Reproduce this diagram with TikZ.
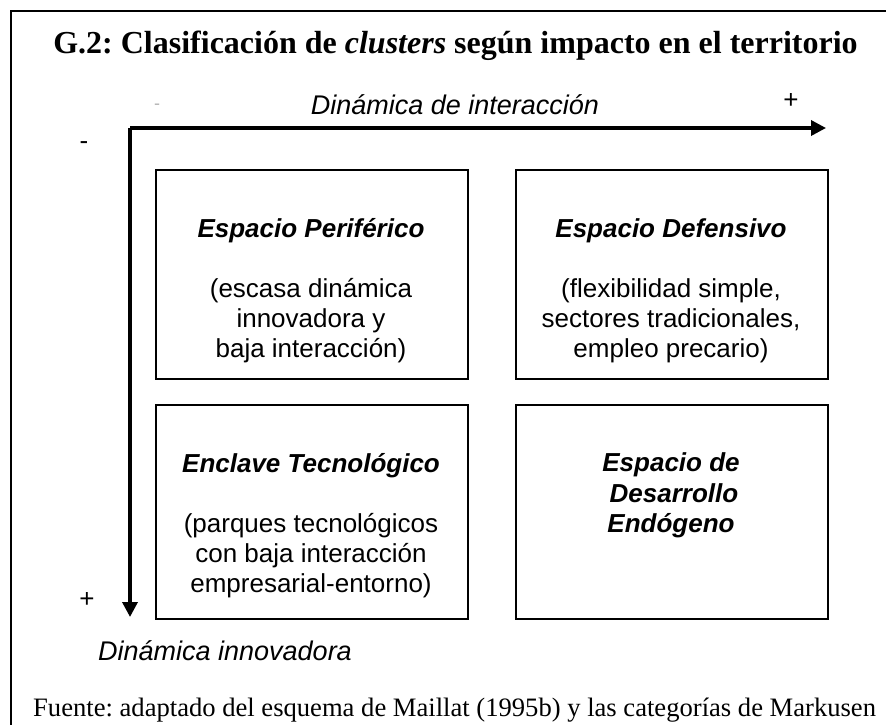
\documentclass[tikz,border=0pt]{standalone}
\usepackage{fontspec}
\setmainfont{Liberation Serif}
\newfontfamily\arial{Liberation Sans}
\usetikzlibrary{arrows.meta}
\frenchspacing
\tikzset{
  frame/.style={line width=2.5pt},
  axis/.style={line width=3.5pt,-{Triangle[length=15pt,width=15pt]}},
  qbox/.style={draw,line width=2pt,anchor=north west,inner sep=0pt,minimum width=312pt,minimum height=209pt},
  qboxlow/.style={qbox,minimum height=214pt},
  head/.style={anchor=base,inner sep=0pt,font=\arial\fontsize{26}{30}\selectfont\bfseries\itshape},
  body/.style={anchor=base,inner sep=0pt,font=\arial\fontsize{26}{30}\selectfont},
  axlab/.style={anchor=base,inner sep=0pt,font=\arial\fontsize{27}{30}\selectfont\itshape},
  sign/.style={inner sep=0pt,font=\arial\fontsize{26}{30}\selectfont},
}
\begin{document}
\frenchspacing
\begin{tikzpicture}[x=1pt,y=-1pt]
\useasboundingbox (0,0) rectangle (886,725);
% outer frame (continues past the right and bottom edges)
\coordinate (fTR) at (886,11);
\coordinate (fTL) at (11,11);
\coordinate (fBL) at (11,725);
\draw[frame] (fTR) -- (fTL) -- (fBL);
% title
\node[anchor=base,inner sep=0pt,font=\fontsize{32}{36}\selectfont\bfseries] (title) at (455.5,54)
  {G.2: Clasificación de \textit{clusters} según impacto en el territorio};
% axes
\coordinate (o) at (130,128);
\coordinate (xend) at (826,128);
\coordinate (yend) at (130,617);
\draw[axis] (o) -- (xend);
\draw[axis] (o) -- (yend);
\node[axlab] (xlab) at (455,114) {Dinámica de interacción};
\node[axlab,anchor=base west] (ylab) at (98,660) {Dinámica innovadora};
\node[sign] (xplus) at (791,101) {+};
\node[sign,text=black!30,font=\arial\fontsize{18}{20}\selectfont] (xminus) at (157,107) {-};
\node[sign] (yminus) at (84,146) {-};
\node[sign] (yplus) at (87,600) {+};
% quadrants
\node[qbox] (tl) at (155,169) {};
\node[qbox] (tr) at (515,169) {};
\node[qboxlow] (bl) at (155,404) {};
\node[qboxlow] (br) at (515,404) {};
% top-left
\node[head] (tlh) at (311,237) {Espacio Periférico};
\node[body] (tl1) at (311,297) {(escasa dinámica};
\node[body] (tl2) at (311,327) {innovadora y};
\node[body] (tl3) at (311,357) {baja interacción)};
% top-right
\node[head] (trh) at (671,237) {Espacio Defensivo};
\node[body] (tr1) at (671,297) {(flexibilidad simple,};
\node[body] (tr2) at (671,327) {sectores tradicionales,};
\node[body] (tr3) at (671,357) {empleo precario)};
% bottom-left
\node[head] (blh) at (311,472) {Enclave Tecnológico};
\node[body] (bl1) at (311,532) {(parques tecnológicos};
\node[body] (bl2) at (311,562) {con baja interacción};
\node[body] (bl3) at (311,592) {empresarial-entorno)};
% bottom-right
\node[head] (br1) at (671,471) {Espacio de};
\node[head] (br2) at (674,502) {Desarrollo};
\node[head] (br3) at (671,532) {Endógeno};
% source
\node[anchor=base west,inner sep=0pt,font=\fontsize{26.6}{30}\selectfont] (src) at (33,716)
  {Fuente: adaptado del esquema de Maillat (1995b) y las categorías de Markusen};
\end{tikzpicture}
\end{document}
